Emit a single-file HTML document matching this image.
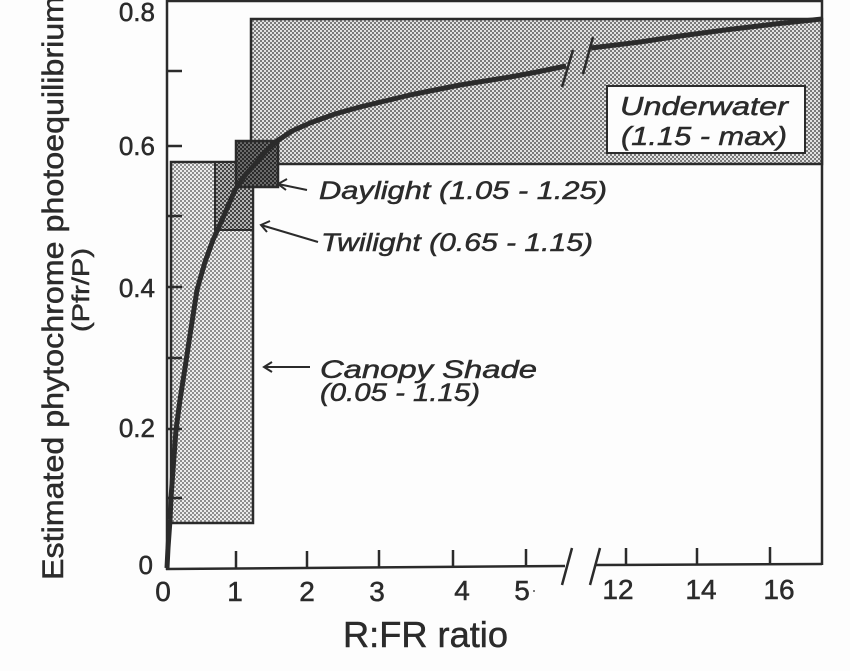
<!DOCTYPE html>
<html><head><meta charset="utf-8"><style>
html,body{margin:0;padding:0;background:#fdfdfd;}
svg{display:block;}
text{font-family:"Liberation Sans",sans-serif;fill:#2b2b2b;stroke:#2b2b2b;stroke-width:0.5;}
.it{font-style:italic;}
</style></head><body>
<svg width="850" height="671" viewBox="0 0 850 671" xmlns="http://www.w3.org/2000/svg">
<defs>
<pattern id="pU" width="4" height="4" patternUnits="userSpaceOnUse">
<rect width="4" height="4" fill="#e2e2e2"/><rect x="0" y="0" width="2" height="2" fill="#7a7a7a"/><rect x="2" y="2" width="2" height="2" fill="#7a7a7a"/>
</pattern>
<pattern id="pC" width="4" height="4" patternUnits="userSpaceOnUse">
<rect width="4" height="4" fill="#ececec"/><rect x="0" y="0" width="2" height="2" fill="#8e8e8e"/><rect x="2" y="2" width="2" height="2" fill="#8e8e8e"/>
</pattern>
<pattern id="pT" width="4" height="4" patternUnits="userSpaceOnUse">
<rect width="4" height="4" fill="#b4b4b4"/><rect x="0" y="0" width="2" height="2" fill="#444"/><rect x="2" y="2" width="2" height="2" fill="#444"/>
</pattern>
<pattern id="pD" width="4" height="4" patternUnits="userSpaceOnUse">
<rect width="4" height="4" fill="#6a6a6a"/><rect x="0" y="0" width="2" height="2" fill="#2a2a2a"/><rect x="2" y="2" width="2" height="2" fill="#2a2a2a"/>
</pattern>
</defs>

<!-- boxes -->
<rect x="251" y="19" width="571" height="145" fill="url(#pU)" stroke="#2b2b2b" stroke-width="2.5"/>
<rect x="171" y="162" width="82" height="361" fill="url(#pC)" stroke="#2b2b2b" stroke-width="2.5"/>
<rect x="215" y="162" width="38" height="68" fill="url(#pT)" stroke="#2b2b2b" stroke-width="2"/>
<rect x="236" y="141" width="42" height="46" fill="url(#pD)" stroke="#2b2b2b" stroke-width="2.5"/>

<!-- axes -->
<g stroke="#2b2b2b" stroke-width="2.5" fill="none">
<line x1="167" y1="0" x2="167" y2="570"/>
<line x1="166" y1="1" x2="822" y2="1"/>
<line x1="822" y1="0" x2="822" y2="565"/>
<line x1="166" y1="569" x2="565" y2="566"/>
<line x1="595" y1="565" x2="822" y2="564"/>
<line x1="562" y1="585" x2="572" y2="548"/>
<line x1="590" y1="585" x2="600" y2="548"/>
<!-- y ticks -->
<line x1="167" y1="71" x2="182" y2="71"/>
<line x1="167" y1="146" x2="182" y2="146"/>
<line x1="167" y1="216" x2="182" y2="216"/>
<line x1="167" y1="287" x2="182" y2="287"/>
<line x1="167" y1="358" x2="182" y2="358"/>
<line x1="167" y1="429" x2="182" y2="429"/>
<line x1="167" y1="498" x2="182" y2="498"/>
<!-- x ticks -->
<line x1="236" y1="568" x2="236" y2="551"/>
<line x1="307" y1="568" x2="307" y2="551"/>
<line x1="379" y1="567" x2="379" y2="550"/>
<line x1="453" y1="567" x2="453" y2="550"/>
<line x1="526" y1="566" x2="526" y2="549"/>
<line x1="626" y1="565" x2="626" y2="548"/>
<line x1="697" y1="565" x2="697" y2="548"/>
<line x1="770" y1="564" x2="770" y2="547"/>
</g>

<!-- curve -->
<g stroke="#2b2b2b" stroke-width="5" fill="none" stroke-linejoin="round" stroke-linecap="butt">
<polyline points="167,568 168,548 170,520 171,498 173,470 176,430 180,400 185,368 190,335 197,290 205,262 213,240 222,220 235,190 246,174 256,163 266,151 277,141 292,131 310,123 335,114 360,107 385,101 410,95 435,90 460,85 485,81 510,77 537,72 566,66"/>
<polyline points="591,48 640,42 680,36 725,30 775,24 822,19"/>
</g>
<g stroke="#2b2b2b" stroke-width="2.5">
<line x1="562" y1="87" x2="573" y2="50"/>
<line x1="583" y1="74" x2="593" y2="37"/>
</g>

<!-- arrows -->
<g stroke="#2b2b2b" stroke-width="2" fill="none">
<line x1="307" y1="190" x2="278" y2="184"/>
<polyline points="287,179 278,184 286,190"/>
<line x1="318" y1="242" x2="261" y2="225"/>
<polyline points="270,221 261,225 267,232"/>
<line x1="310" y1="367" x2="264" y2="367"/>
<polyline points="272,362 264,367 272,372"/>
</g>

<!-- underwater label -->
<rect x="607" y="86" width="198" height="67" fill="#fdfdfd" stroke="#2b2b2b" stroke-width="2"/>
<text class="it" x="620" y="115" font-size="26" textLength="168" lengthAdjust="spacingAndGlyphs">Underwater</text>
<text class="it" x="621" y="145" font-size="26" textLength="166" lengthAdjust="spacingAndGlyphs">(1.15 - max)</text>

<!-- annotations -->
<text class="it" x="319" y="199" font-size="25" textLength="288" lengthAdjust="spacingAndGlyphs">Daylight (1.05 - 1.25)</text>
<text class="it" x="321" y="251" font-size="25" textLength="272" lengthAdjust="spacingAndGlyphs">Twilight (0.65 - 1.15)</text>
<text class="it" x="320" y="378" font-size="25" textLength="217" lengthAdjust="spacingAndGlyphs">Canopy Shade</text>
<text class="it" x="320" y="401" font-size="25" textLength="160" lengthAdjust="spacingAndGlyphs">(0.05 - 1.15)</text>

<!-- y tick labels -->
<g font-size="26" text-anchor="end">
<text x="155" y="21">0.8</text>
<text x="155" y="155">0.6</text>
<text x="155" y="297">0.4</text>
<text x="155" y="437">0.2</text>
<text x="153" y="574">0</text>
</g>
<!-- x tick labels -->
<g font-size="28" text-anchor="middle">
<text x="163" y="601">0</text>
<text x="235" y="601">1</text>
<text x="307" y="601">2</text>
<text x="377" y="601">3</text>
<text x="462" y="600">4</text>
<text x="522" y="600">5</text>
<text x="618" y="599">12</text>
<text x="701" y="599">14</text>
<text x="779" y="599">16</text>
</g>
<circle cx="534" cy="591" r="1" fill="#555"/>

<text x="343" y="647" font-size="36" textLength="165" lengthAdjust="spacingAndGlyphs">R:FR ratio</text>

<text transform="translate(63,580) rotate(-90)" font-size="30" textLength="584" lengthAdjust="spacingAndGlyphs">Estimated phytochrome photoequilibrium</text>
<text transform="translate(89,332) rotate(-90)" font-size="24" textLength="84" lengthAdjust="spacingAndGlyphs">(Pfr/P)</text>
</svg>
</body></html>
